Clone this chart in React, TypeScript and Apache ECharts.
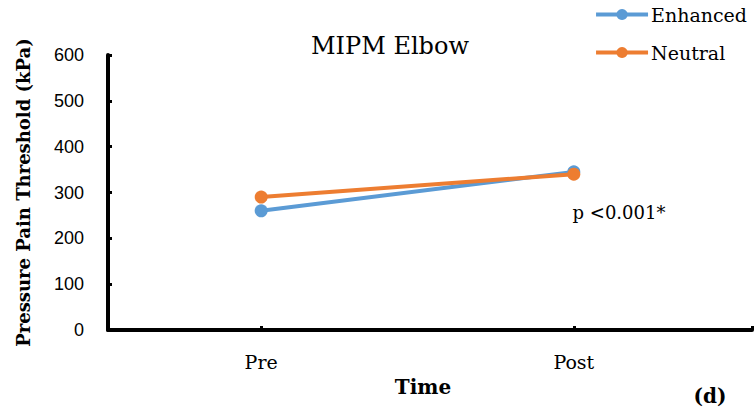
import React, { useEffect, useRef } from "react";
import * as echarts from "echarts";

const categories = ["Pre", "Post"];
const enhanced = [260, 345];
const neutral = [290, 340];
const yTicks = [0, 100, 200, 300, 400, 500, 600];

const SERIF = "'DejaVu Serif', 'Liberation Serif', serif";
const SANS = "'Liberation Sans', 'Open Sans', sans-serif";

export default function App() {
  const ref = useRef<HTMLDivElement>(null);

  useEffect(() => {
    if (!ref.current) return;
    const chart = echarts.init(ref.current, null, { renderer: "svg" });
    const toPairs = (vals: number[]) => vals.map((v, i) => [i, v]);

    chart.setOption({
      animation: false,
      backgroundColor: "#ffffff",
      title: [
        {
          text: "MIPM Elbow",
          left: 385,
          top: 29,
          textAlign: "center",
          textStyle: { fontFamily: SERIF, fontSize: 24, fontWeight: "normal", color: "#000" },
        },
        {
          text: "Time",
          left: 418,
          top: 372,
          textAlign: "center",
          textStyle: { fontFamily: SERIF, fontSize: 20, fontWeight: "bold", color: "#000" },
        },
        {
          text: "(d)",
          left: 705,
          top: 381,
          textAlign: "center",
          textStyle: { fontFamily: SERIF, fontSize: 20, fontWeight: "bold", color: "#000" },
        },
        {
          text: "p <0.001*",
          left: 614,
          top: 198,
          textAlign: "center",
          textStyle: { fontFamily: SERIF, fontSize: 18, fontWeight: "normal", color: "#000" },
        },
      ],
      legend: {
        orient: "vertical",
        right: 2,
        top: 0,
        itemGap: 19,
        itemWidth: 52,
        itemHeight: 14,
        lineStyle: { width: 4 },
        textStyle: { fontFamily: SERIF, fontSize: 19, color: "#000", padding: [0, 0, 0, -2] },
        data: ["Enhanced", "Neutral"],
      },
      grid: { left: 108, right: 2, top: 55, bottom: 84, containLabel: false },
      xAxis: {
        type: "value",
        min: -0.49,
        max: 1.57,
        splitLine: { show: false },
        axisLine: { show: true, onZero: false, lineStyle: { color: "#000", width: 4 } },
        axisTick: {
          show: true,
          inside: true,
          length: 4,
          lineStyle: { color: "#000", width: 3 },
          customValues: [0, 1, 1.57],
        },
        axisLabel: {
          show: true,
          margin: 22,
          customValues: [0, 1],
          formatter: (v: number) => categories[Math.round(v)] ?? "",
          fontFamily: SERIF,
          fontSize: 19,
          color: "#000",
        },
      },
      yAxis: {
        type: "value",
        min: 0,
        max: 600,
        interval: 100,
        splitLine: { show: false },
        name: "Pressure Pain Threshold (kPa)",
        nameLocation: "middle",
        nameGap: 76,
        nameRotate: 90,
        nameTextStyle: { fontFamily: SERIF, fontSize: 18, fontWeight: "bold", color: "#000" },
        axisLine: { show: true, onZero: false, lineStyle: { color: "#000", width: 4 } },
        axisTick: { show: true, inside: true, length: 4, lineStyle: { color: "#000", width: 3 } },
        axisLabel: {
          margin: 24,
          fontFamily: SANS,
          fontSize: 18,
          color: "#000",
          formatter: (v: number) => (yTicks.includes(v) ? String(v) : ""),
        },
      },
      series: [
        {
          name: "Enhanced",
          type: "line",
          data: toPairs(enhanced),
          symbol: "circle",
          symbolSize: 13,
          itemStyle: { color: "#5B9BD5" },
          lineStyle: { color: "#5B9BD5", width: 4 },
          z: 2,
        },
        {
          name: "Neutral",
          type: "line",
          data: toPairs(neutral),
          symbol: "circle",
          symbolSize: 13,
          itemStyle: { color: "#ED7D31" },
          lineStyle: { color: "#ED7D31", width: 4 },
          z: 3,
        },
      ],
    });

    return () => chart.dispose();
  }, []);

  return <div ref={ref} style={{ width: 754, height: 414, position: "absolute", left: 0, top: 0 }} />;
}
